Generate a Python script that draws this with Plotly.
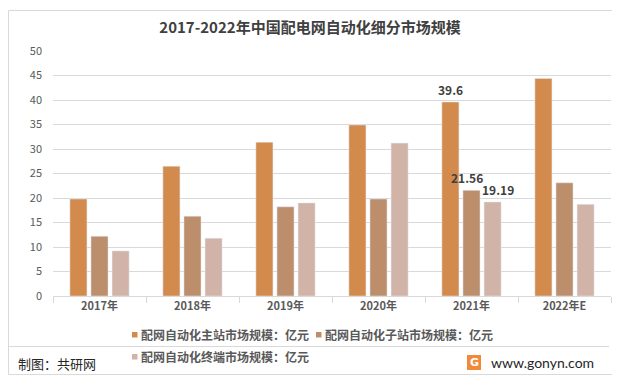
import plotly.graph_objects as go

categories = ["2017年", "2018年", "2019年", "2020年", "2021年", "2022年E"]
main_station = [19.8, 26.5, 31.4, 34.9, 39.6, 44.4]
sub_station = [12.2, 16.3, 18.2, 19.8, 21.56, 23.1]
terminal = [9.2, 11.8, 19.0, 31.2, 19.19, 18.7]
label_main = ["", "", "", "", "39.6", ""]
label_sub = ["", "", "", "", "21.56", ""]
label_term = ["", "", "", "", "19.19", ""]
series_names = ["配网自动化主站市场规模：亿元", "配网自动化子站市场规模：亿元", "配网自动化终端市场规模：亿元"]
colors = ["#D38B4D", "#BC8E6C", "#D2B3A8"]
title = "2017-2022年中国配电网自动化细分市场规模"
y_ticks = [0, 5, 10, 15, 20, 25, 30, 35, 40, 45, 50]

# page offset (default body margin of the html page)
OFF = 8
W, H = 620 - OFF, 384 - OFF
# plot area in page pixels
L, R, T, B = 53, 611, 51, 296
FONT = "Noto Sans CJK SC"
BARGAP, GROUPGAP = 0.32, 0.19


def px(x):
    return (x - L) / (R - L)


def py(y):
    return (B - y) / (B - T)


fig = go.Figure()
for vals, name, col in zip([main_station, sub_station, terminal], series_names, colors):
    fig.add_trace(go.Bar(
        x=categories, y=vals, name=name, marker_color=col,
        showlegend=False, hoverinfo="x+y+name"))

fig.update_layout(
    width=W, height=H,
    margin=dict(l=L - OFF, r=W - (R - OFF), t=T - OFF, b=H - (B - OFF), autoexpand=False),
    paper_bgcolor="white", plot_bgcolor="white",
    barmode="group", bargap=BARGAP, bargroupgap=GROUPGAP,
    font=dict(family=FONT, color="#595959"),
    title=dict(text="<b>" + title + "</b>", x=0.5 + (310 - (L + R) / 2) / (R - L), xref="paper",
               xanchor="center", y=1 - (28 - OFF) / H, yanchor="middle",
               font=dict(family=FONT, size=15, color="#404040")),
    xaxis=dict(showgrid=False, showline=True, linecolor="#D9D9D9", linewidth=1,
               ticks="outside", tickson="boundaries", ticklen=6, tickcolor="#D9D9D9",
               tickfont=dict(family=FONT, size=11, color="#595959"),
               tickprefix="<b>", ticksuffix="</b>"),
    yaxis=dict(range=[0, 50], tickvals=y_ticks, showgrid=True, gridcolor="#D9D9D9",
               gridwidth=1, zeroline=False, showline=False, ticks="",
               tickfont=dict(family=FONT, size=11, color="#595959"),
               tickprefix="<b>", ticksuffix="</b>", ticklabelstandoff=10),
)

shapes = []
annotations = []

# data labels, anchored to the data through the axes
slot = (1 - BARGAP) * ((R - L) / len(categories)) / 3
extra = [0, -5, 5]
for k, (vals, labels) in enumerate(zip([main_station, sub_station, terminal],
                                       [label_main, label_sub, label_term])):
    for cat, v, lab in zip(categories, vals, labels):
        if lab:
            annotations.append(dict(text="<b>" + lab + "</b>", x=cat, y=v, xref="x", yref="y",
                                    xanchor="center", yanchor="bottom", showarrow=False,
                                    xshift=(k - 1) * slot + extra[k], yshift=2,
                                    font=dict(family=FONT, size=12, color="#404040")))

# outer frame
shapes.append(dict(type="rect", xref="paper", yref="paper",
                   x0=px(8.5), x1=px(612.5), y0=py(374.5), y1=py(10.5),
                   line=dict(color="#D9D9D9", width=1), fillcolor="rgba(0,0,0,0)", layer="below"))
# separator line
shapes.append(dict(type="line", xref="paper", yref="paper",
                   x0=px(8.5), x1=px(609), y0=py(346.5), y1=py(346.5),
                   line=dict(color="#D9D9D9", width=1)))

# custom legend
legend_pos = [(132, 334.5), (316, 334.5), (132, 356.5)]
for (lx, ly), name, col in zip(legend_pos, series_names, colors):
    shapes.append(dict(type="rect", xref="paper", yref="paper",
                       x0=px(lx), x1=px(lx + 5.5), y0=py(ly + 3), y1=py(ly - 2.5),
                       line=dict(width=0), fillcolor=col))
    annotations.append(dict(text="<b>" + name + "</b>", xref="paper", yref="paper",
                            x=px(lx + 7), y=py(ly), xanchor="left", yanchor="middle",
                            showarrow=False,
                            font=dict(family=FONT, size=12, color="#595959")))

# footer
annotations.append(dict(text="制图：共研网", xref="paper", yref="paper",
                        x=px(16), y=py(363), xanchor="left", yanchor="middle",
                        showarrow=False, font=dict(family=FONT, size=13, color="#262626")))
annotations.append(dict(text="www.gonyn.com", xref="paper", yref="paper",
                        x=px(489), y=py(362), xanchor="left", yanchor="middle",
                        showarrow=False, font=dict(family="Lato", size=14, color="#262626")))
# logo icon
shapes.append(dict(type="rect", xref="paper", yref="paper",
                   x0=px(467), x1=px(481), y0=py(370), y1=py(355),
                   line=dict(width=0), fillcolor="#F08A3A"))
annotations.append(dict(text="<b>G</b>", xref="paper", yref="paper",
                        x=px(474), y=py(362.5), xanchor="center", yanchor="middle",
                        showarrow=False, font=dict(family="DejaVu Sans", size=11, color="white")))

fig.update_layout(shapes=shapes, annotations=annotations)
fig.write_html("out.html")
